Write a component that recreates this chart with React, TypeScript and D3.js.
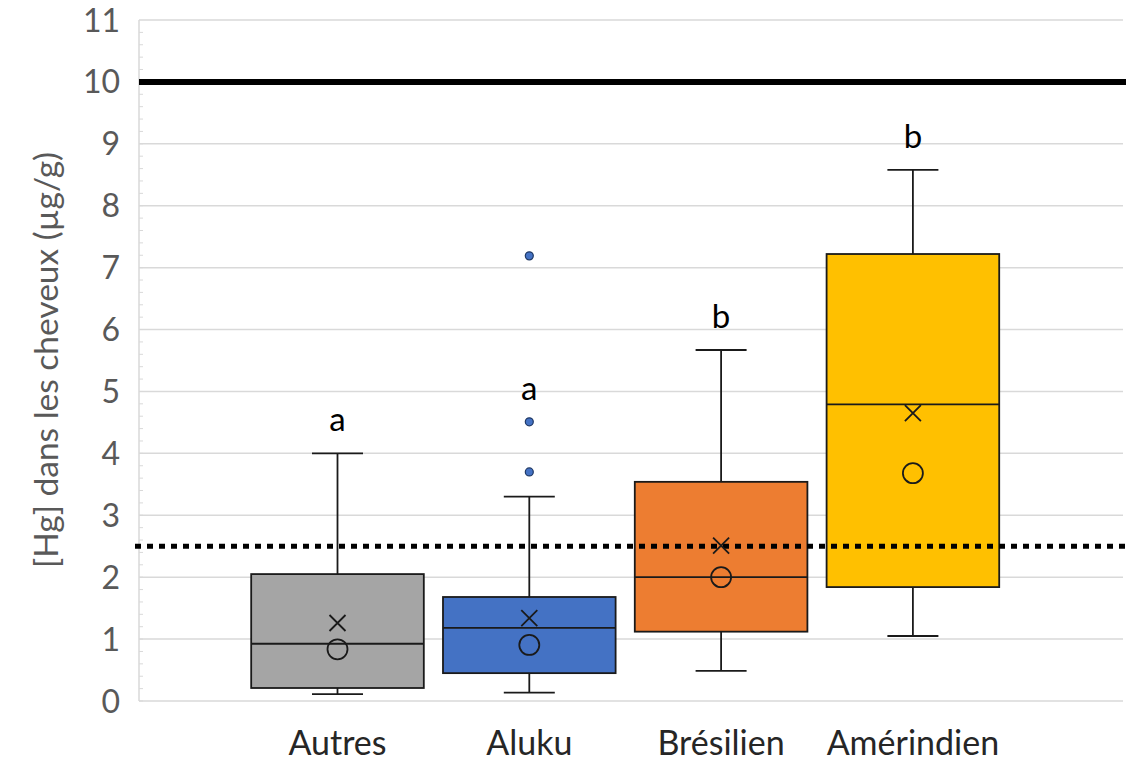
import React from 'react';
import * as d3 from 'd3';

// Box plot values (µg/g)
const categories = ['Autres', 'Aluku', 'Brésilien', 'Amérindien'];
const whiskerLow = [0.11, 0.135, 0.485, 1.05];
const q1 = [0.21, 0.45, 1.12, 1.84];
const median = [0.925, 1.18, 2.0, 4.79];
const q3 = [2.05, 1.68, 3.54, 7.22];
const whiskerHigh = [4.0, 3.3, 5.67, 8.58];
const means = [1.26, 1.34, 2.51, 4.65];
const circleValues = [0.835, 0.905, 2.0, 3.68];
const outliers = [[], [3.7, 4.51, 7.19], [], []];
const groupLetters = ['a', 'a', 'b', 'b'];
const letterAnchors = [4.0, 4.51, 5.67, 8.58];
const fills = ['#a5a5a5', '#4472c4', '#ed7d31', '#ffc000'];
const yTicks = d3.range(0, 12);
const minorTicks = d3.range(0, 55).map(i => i * 0.2);
const limitHigh = 10;
const limitLow = 2.5;

const width = 1140;
const height = 771;
const font = 'Lato, "Open Sans", sans-serif';

export default function App() {
  const y = d3.scaleLinear().domain([0, 11]).range([701, 20]);
  const x = d3.scaleBand<string>()
    .domain(categories)
    .range([241.6, 1008.8])
    .paddingInner(0.1)
    .paddingOuter(0.05);
  const plotLeft = 139;
  const plotRight = 1123;
  const bw = x.bandwidth();
  const capHalf = 25.5;
  const ink = '#1a1a1a';
  const sw = 1.8;

  return (
    <div style={{ position: 'absolute', left: 0, top: 0 }}>
      <svg width={width} height={height} style={{ display: 'block', background: '#fff' }}>
        {/* gridlines */}
        {yTicks.map(t => (
          <line key={'g' + t} x1={plotLeft} x2={plotRight} y1={y(t)} y2={y(t)}
            stroke="#d9d9d9" strokeWidth={1.5} />
        ))}
        {/* minor ticks */}
        {minorTicks.map((t, i) => (
          <line key={'m' + i} x1={plotLeft} x2={plotLeft + 4} y1={y(t)} y2={y(t)}
            stroke="#d9d9d9" strokeWidth={1} />
        ))}
        <line x1={plotLeft} x2={plotLeft} y1={y(11)} y2={y(0)} stroke="#d9d9d9" strokeWidth={1.5} />

        {/* tick labels */}
        {yTicks.map(t => (
          <text key={'t' + t} x={120} y={y(t)} dy="0.36em" textAnchor="end"
            fill="#595959" fontSize={32} fontFamily={font}>{t}</text>
        ))}

        {/* y title */}
        <text transform={`translate(58,${360}) rotate(-90)`} textAnchor="middle"
          fill="#595959" fontSize={33.5} fontFamily={font}>[Hg] dans les cheveux (µg/g)</text>

        {/* boxes */}
        {categories.map((c, i) => {
          const cx = (x(c) || 0) + bw / 2;
          const x0 = x(c) || 0;
          return (
            <g key={c}>
              <line x1={cx} x2={cx} y1={y(whiskerHigh[i])} y2={y(q3[i])} stroke={ink} strokeWidth={sw} />
              <line x1={cx} x2={cx} y1={y(q1[i])} y2={y(whiskerLow[i])} stroke={ink} strokeWidth={sw} />
              <line x1={cx - capHalf} x2={cx + capHalf} y1={y(whiskerHigh[i])} y2={y(whiskerHigh[i])} stroke={ink} strokeWidth={sw} />
              <line x1={cx - capHalf} x2={cx + capHalf} y1={y(whiskerLow[i])} y2={y(whiskerLow[i])} stroke={ink} strokeWidth={sw} />
              <rect x={x0} width={bw} y={y(q3[i])} height={y(q1[i]) - y(q3[i])}
                fill={fills[i]} stroke={ink} strokeWidth={sw} />
              <line x1={x0} x2={x0 + bw} y1={y(median[i])} y2={y(median[i])} stroke={ink} strokeWidth={sw} />
              {outliers[i].map((o, j) => (
                <circle key={j} cx={cx} cy={y(o)} r={4} fill={fills[i]} stroke="#1f3864" strokeWidth={1.2} />
              ))}
            </g>
          );
        })}

        {/* reference lines */}
        <line x1={plotLeft} x2={1126} y1={y(limitHigh)} y2={y(limitHigh)} stroke="#000" strokeWidth={6} />
        <line x1={135} x2={1128} y1={y(limitLow)} y2={y(limitLow)} stroke="#000" strokeWidth={5}
          strokeDasharray="6 6" />

        {/* mean and circle markers */}
        {categories.map((c, i) => {
          const cx = (x(c) || 0) + bw / 2;
          const my = y(means[i]);
          const s = 8;
          return (
            <g key={'mk' + c}>
              <path d={`M${cx - s},${my - s}L${cx + s},${my + s}M${cx - s},${my + s}L${cx + s},${my - s}`}
                stroke={ink} strokeWidth={sw} fill="none" />
              <circle cx={cx} cy={y(circleValues[i])} r={10} fill="none" stroke={ink} strokeWidth={sw} />
            </g>
          );
        })}

        {/* group letters */}
        {categories.map((c, i) => (
          <text key={'l' + c} x={(x(c) || 0) + bw / 2} y={y(letterAnchors[i]) - 22}
            textAnchor="middle" fill="#000" fontSize={33} fontFamily={font}>{groupLetters[i]}</text>
        ))}

        {/* category labels */}
        {categories.map(c => (
          <text key={'c' + c} x={(x(c) || 0) + bw / 2} y={755} textAnchor="middle"
            fill="#262626" fontSize={34} fontFamily={font}>{c}</text>
        ))}
      </svg>
    </div>
  );
}
